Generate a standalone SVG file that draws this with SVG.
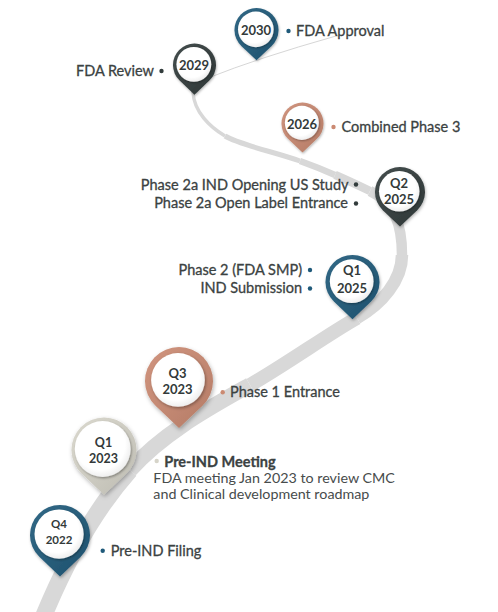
<svg xmlns="http://www.w3.org/2000/svg" xmlns:xlink="http://www.w3.org/1999/xlink" width="498" height="612" viewBox="0 0 498 612">
<style>
.road{fill:none;stroke:#d8d8d8;stroke-linecap:butt}
.pt{font-family:Lato,"Liberation Sans",sans-serif;font-weight:700;fill:#333a3a;text-anchor:middle}
.lb{font-family:Lato,"Liberation Sans",sans-serif;font-size:14.5px;fill:#3b4242;stroke:#3b4242;stroke-width:0.3}
.ds{font-family:Lato,"Liberation Sans",sans-serif;font-size:14.3px;fill:#474c4c}
.end{text-anchor:end}
.blue{fill:#1f5a7a}.dark{fill:#323c3c}.salmon{fill:#cb8a72}.beige{fill:#d6d4c9}
</style>
<defs>
<path id="pin" d="M -6.89 7.25 A 10 10 0 1 1 6.89 7.25 L 0 13.8 Z"/>
<radialGradient id="gw" cx="0.45" cy="0.42" r="0.6">
<stop offset="0.75" stop-color="#ffffff"/>
<stop offset="1" stop-color="#ececec"/>
</radialGradient>
<linearGradient id="shade" x1="0" y1="0" x2="1" y2="1">
<stop offset="0" stop-color="#ffffff" stop-opacity="0.08"/>
<stop offset="1" stop-color="#000000" stop-opacity="0.12"/>
</linearGradient>
<filter id="sh" x="-30%" y="-30%" width="160%" height="160%">
<feDropShadow dx="0.3" dy="0.6" stdDeviation="0.6" flood-color="#000" flood-opacity="0.3"/>
</filter>
<filter id="ish" x="-30%" y="-30%" width="160%" height="160%">
<feDropShadow dx="0.3" dy="0.4" stdDeviation="0.4" flood-color="#000" flood-opacity="0.35"/>
</filter>
</defs>
<g id="connectors">
<path class="road" stroke-width="17" d="M 40 625 C 60 575, 90 515, 130 470"/>
<path class="road" stroke-width="15.5" d="M 130 470 C 165 431, 215 405, 250 385"/>
<path class="road" stroke-width="14" d="M 250 385 C 285 365, 330 333, 357 318"/>
<path class="road" stroke-width="12.5" d="M 357 318 C 382 304, 402 280, 402 255"/>
<path class="road" stroke-width="10.5" d="M 402 255 C 402 225, 395 203, 370 191"/>
<path class="road" stroke-width="8.5" d="M 370 191 C 357.5 185, 346.25 179.75, 335 174.9"/>
<path class="road" stroke-width="6.5" d="M 335 174.9 C 323.75 170, 312.5 165.5, 300 161"/>
<path class="road" stroke-width="5" d="M 300 161 C 275 152, 240 145, 225 136"/>
<path class="road" stroke-width="3.5" d="M 225 136 C 210 127, 194 112, 193 92"/>
<path fill="none" stroke="#d6d6d6" stroke-width="1" d="M 208 78 Q 258 58 336 36"/>
</g>
<g id="n2030">
<g transform="translate(256.5 30) scale(2.2)" filter="url(#sh)"><use href="#pin" class="blue"/><use href="#pin" fill="url(#shade)"/><circle cx="-0.3" cy="-0.3" r="8.1" fill="url(#gw)" filter="url(#ish)"/></g>
<text class="pt" x="256" y="34.5" font-size="13">2030</text>
<circle cx="288.5" cy="31" r="2.2" class="blue"/>
<text class="lb" x="296" y="36">FDA Approval</text>
</g>
<g id="n2029">
<g transform="translate(194.5 65) scale(2.15)" filter="url(#sh)"><use href="#pin" class="dark"/><use href="#pin" fill="url(#shade)"/><circle cx="-0.3" cy="-0.3" r="8.1" fill="url(#gw)" filter="url(#ish)"/></g>
<text class="pt" x="194" y="70" font-size="13">2029</text>
<circle cx="161.5" cy="71" r="2.2" class="dark"/>
<text class="lb end" x="154" y="76">FDA Review</text>
</g>
<g id="n2026">
<g transform="translate(302.5 123.5) scale(2.1)" filter="url(#sh)"><use href="#pin" class="salmon"/><use href="#pin" fill="url(#shade)"/><circle cx="-0.3" cy="-0.3" r="8.1" fill="url(#gw)" filter="url(#ish)"/></g>
<text class="pt" x="302" y="129" font-size="13">2026</text>
<circle cx="333.5" cy="127" r="2.2" class="salmon"/>
<text class="lb" x="341.5" y="132">Combined Phase 3</text>
</g>
<g id="nQ2-2025">
<g transform="translate(400 192) scale(2.5)" filter="url(#sh)"><use href="#pin" class="dark"/><use href="#pin" fill="url(#shade)"/><circle cx="-0.3" cy="-0.3" r="8.1" fill="url(#gw)" filter="url(#ish)"/></g>
<text class="pt" x="399" y="188" font-size="13">Q2</text>
<text class="pt" x="399" y="204" font-size="13">2025</text>
<circle cx="356" cy="184.5" r="2.2" class="dark"/>
<text class="lb end" x="348.5" y="190">Phase 2a IND Opening US Study</text>
<circle cx="356" cy="203.5" r="2.2" class="dark"/>
<text class="lb end" x="348" y="207.5">Phase 2a Open Label Entrance</text>
</g>
<g id="nQ1-2025">
<g transform="translate(352.5 282) scale(2.7)" filter="url(#sh)"><use href="#pin" class="blue"/><use href="#pin" fill="url(#shade)"/><circle cx="-0.3" cy="-0.3" r="8.1" fill="url(#gw)" filter="url(#ish)"/></g>
<text class="pt" x="352" y="275" font-size="13">Q1</text>
<text class="pt" x="352" y="293" font-size="13">2025</text>
<circle cx="310" cy="270" r="2.2" class="blue"/>
<text class="lb end" x="302" y="275">Phase 2 (FDA SMP)</text>
<circle cx="310" cy="288.5" r="2.2" class="blue"/>
<text class="lb end" x="302" y="293">IND Submission</text>
</g>
<g id="nQ3-2023">
<g transform="translate(179 381) scale(3.4)" filter="url(#sh)"><use href="#pin" class="salmon"/><use href="#pin" fill="url(#shade)"/><circle cx="-0.3" cy="-0.3" r="7.9" fill="url(#gw)" filter="url(#ish)"/></g>
<text class="pt" x="177.5" y="378" font-size="13">Q3</text>
<text class="pt" x="177.5" y="394" font-size="13">2023</text>
<circle cx="222.7" cy="392.3" r="2.2" class="salmon"/>
<text class="lb" x="230" y="397">Phase 1 Entrance</text>
</g>
<g id="nQ1-2023">
<g transform="translate(104 450) scale(3.25)" filter="url(#sh)"><use href="#pin" class="beige"/><use href="#pin" fill="url(#shade)"/><circle cx="-0.4" cy="-0.3" r="8.6" fill="url(#gw)" filter="url(#ish)"/></g>
<text class="pt" x="103.5" y="447" font-size="12.5">Q1</text>
<text class="pt" x="103.5" y="463" font-size="12.5">2023</text>
<circle cx="156.7" cy="461" r="2.2" class="beige"/>
<text class="lb" x="164.3" y="466.5" font-weight="700" stroke-width="0">Pre-IND Meeting</text>
<text class="ds" x="153.3" y="483">FDA meeting Jan 2023 to review CMC</text>
<text class="ds" x="153.3" y="499">and Clinical development roadmap</text>
</g>
<g id="nQ4-2022">
<g transform="translate(60 535) scale(3)" filter="url(#sh)"><use href="#pin" class="blue"/><use href="#pin" fill="url(#shade)"/><circle cx="-0.3" cy="-0.3" r="8.2" fill="url(#gw)" filter="url(#ish)"/></g>
<text class="pt" x="59" y="528" font-size="11.5">Q4</text>
<text class="pt" x="59" y="543.5" font-size="11.5">2022</text>
<circle cx="102.7" cy="550.7" r="2.2" class="blue"/>
<text class="lb" x="110.7" y="556">Pre-IND Filing</text>
</g>
</svg>
